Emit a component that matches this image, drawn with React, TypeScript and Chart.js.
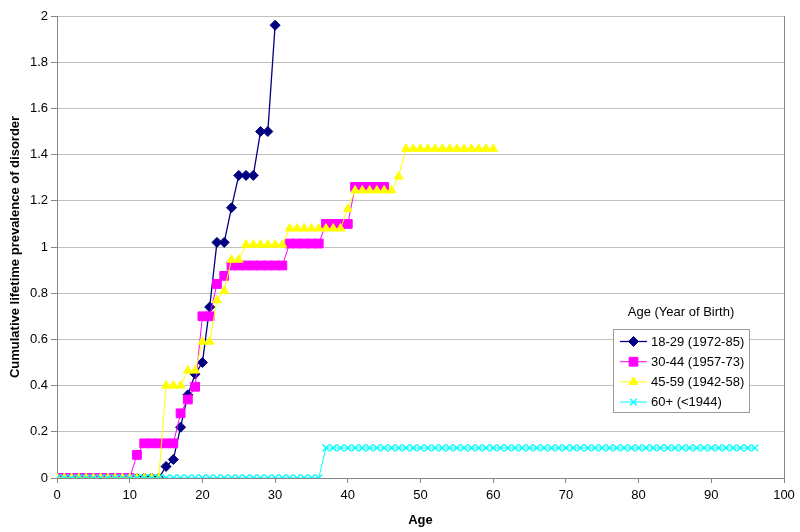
import React, { useEffect, useRef } from "react";
import { Chart, registerables } from "chart.js";
import { drawPoint } from "chart.js/helpers";

Chart.register(...registerables);

const FONT = '"Liberation Sans", Arial, sans-serif';

const AGES = [
  0, 1, 2, 3, 4, 5, 6, 7, 8, 9, 10, 11, 12, 13, 14, 15, 16, 17, 18, 19,
  20, 21, 22, 23, 24, 25, 26, 27, 28, 29, 30, 31, 32, 33, 34, 35, 36, 37, 38, 39,
  40, 41, 42, 43, 44, 45, 46, 47, 48, 49, 50, 51, 52, 53, 54, 55, 56, 57, 58, 59,
  60, 61, 62, 63, 64, 65, 66, 67, 68, 69, 70, 71, 72, 73, 74, 75, 76, 77, 78, 79,
  80, 81, 82, 83, 84, 85, 86, 87, 88, 89, 90, 91, 92, 93, 94, 95, 96,
];

const SERIES_NAMES = ["18-29 (1972-85)", "30-44 (1957-73)", "45-59 (1942-58)", "60+ (<1944)"];

// ages 0..30
const S1_VALUES = [
  0, 0, 0, 0, 0, 0, 0, 0, 0, 0, 0, 0, 0, 0, 0,
  0.05, 0.08, 0.22, 0.36, 0.45, 0.5, 0.74, 1.02, 1.02, 1.17, 1.31, 1.31, 1.31, 1.5, 1.5, 1.96,
];

// ages 0..45
const S2_VALUES = [
  0, 0, 0, 0, 0, 0, 0, 0, 0, 0, 0,
  0.1, 0.15, 0.15, 0.15, 0.15, 0.15, 0.28, 0.34, 0.395, 0.7, 0.7, 0.84, 0.875,
  0.92, 0.92, 0.92, 0.92, 0.92, 0.92, 0.92, 0.92,
  1.015, 1.015, 1.015, 1.015, 1.015,
  1.1, 1.1, 1.1, 1.1,
  1.26, 1.26, 1.26, 1.26, 1.26,
];

// ages 0..60
const S3_VALUES = [
  0, 0, 0, 0, 0, 0, 0, 0, 0, 0, 0, 0, 0, 0, 0,
  0.4, 0.4, 0.4, 0.465, 0.465, 0.59, 0.59, 0.77, 0.81, 0.945, 0.945,
  1.01, 1.01, 1.01, 1.01, 1.01, 1.01,
  1.08, 1.08, 1.08, 1.08, 1.08, 1.08, 1.08, 1.08,
  1.165,
  1.245, 1.245, 1.245, 1.245, 1.245, 1.245,
  1.305,
  1.425, 1.425, 1.425, 1.425, 1.425, 1.425, 1.425, 1.425, 1.425, 1.425, 1.425, 1.425, 1.425,
];

// ages 0..96
const S4_VALUES = [
  0, 0, 0, 0, 0, 0, 0, 0, 0, 0, 0, 0, 0, 0, 0, 0, 0, 0, 0, 0,
  0, 0, 0, 0, 0, 0, 0, 0, 0, 0, 0, 0, 0, 0, 0, 0, 0,
  0.13, 0.13, 0.13, 0.13, 0.13, 0.13, 0.13, 0.13, 0.13, 0.13,
  0.13, 0.13, 0.13, 0.13, 0.13, 0.13, 0.13, 0.13, 0.13, 0.13,
  0.13, 0.13, 0.13, 0.13, 0.13, 0.13, 0.13, 0.13, 0.13, 0.13,
  0.13, 0.13, 0.13, 0.13, 0.13, 0.13, 0.13, 0.13, 0.13, 0.13,
  0.13, 0.13, 0.13, 0.13, 0.13, 0.13, 0.13, 0.13, 0.13, 0.13,
  0.13, 0.13, 0.13, 0.13, 0.13, 0.13, 0.13, 0.13, 0.13, 0.13,
];

const X_TITLE = "Age";
const Y_TITLE = "Cumulative lifetime prevalence of disorder";
const LEGEND_TITLE = "Age (Year of Birth)";

const COLORS = ["#000080", "#FF00FF", "#FFFF00", "#00FFFF"];
const STYLES = ["rectRot", "rect", "triangle", "crossRot"];
const RADII = [5, 6.2, 5, 4.8];
const WIDTHS = [1.3, 1, 1, 1];
const MARKER_BORDERS = [1, 1, 1, 1.4];

const toPoints = (vals: number[]) => vals.map((v, i) => ({ x: AGES[i], y: v }));

const frame = {
  id: "frameAndLegend",
  afterDraw(chart: any) {
    const ctx = chart.ctx;
    const { right, top, bottom } = chart.chartArea;
    ctx.save();
    ctx.strokeStyle = "#868686";
    ctx.lineWidth = 1;
    ctx.beginPath();
    ctx.moveTo(Math.round(right) + 0.5, top);
    ctx.lineTo(Math.round(right) + 0.5, bottom);
    ctx.stroke();

    ctx.font = `13px ${FONT}`;
    ctx.fillStyle = "#000";
    ctx.textAlign = "center";
    ctx.textBaseline = "middle";
    ctx.fillText(LEGEND_TITLE, 681, 312);

    const bx = 613, by = 329, bw = 137, bh = 84;
    ctx.fillStyle = "#fff";
    ctx.fillRect(bx, by, bw, bh);
    ctx.strokeStyle = "#9a9a9a";
    ctx.lineWidth = 1;
    ctx.strokeRect(bx + 0.5, by + 0.5, bw - 1, bh - 1);

    chart.data.datasets.forEach((ds: any, i: number) => {
      const y = 341.5 + i * 20.2;
      ctx.strokeStyle = ds.borderColor;
      ctx.lineWidth = ds.borderWidth;
      ctx.beginPath();
      ctx.moveTo(620, y);
      ctx.lineTo(647, y);
      ctx.stroke();
      ctx.fillStyle = ds.pointBackgroundColor;
      ctx.strokeStyle = ds.pointBorderColor;
      ctx.lineWidth = ds.pointBorderWidth;
      drawPoint(ctx, { pointStyle: ds.pointStyle, radius: ds.pointRadius, rotation: 0, borderWidth: ds.pointBorderWidth }, 633.5, y);
      ctx.fillStyle = "#000";
      ctx.textAlign = "left";
      ctx.textBaseline = "middle";
      ctx.font = `13px ${FONT}`;
      ctx.fillText(ds.label, 651, y + 0.5);
    });
    ctx.restore();
  },
};

export default function App() {
  const ref = useRef<HTMLCanvasElement | null>(null);

  useEffect(() => {
    if (!ref.current) return;
    const seriesVals = [S1_VALUES, S2_VALUES, S3_VALUES, S4_VALUES];
    const datasets = seriesVals.map((vals, i) => ({
      label: SERIES_NAMES[i],
      data: toPoints(vals),
      borderColor: COLORS[i],
      backgroundColor: COLORS[i],
      pointBackgroundColor: COLORS[i],
      pointBorderColor: COLORS[i],
      pointStyle: STYLES[i],
      pointRadius: RADII[i],
      pointBorderWidth: MARKER_BORDERS[i],
      borderWidth: WIDTHS[i],
      tension: 0,
      order: 4 - i,
    }));

    const chart = new Chart(ref.current, {
      type: "line",
      data: { datasets },
      plugins: [frame],
      options: {
        animation: false,
        responsive: false,
        devicePixelRatio: 1,
        layout: { padding: { top: 16, right: 16, left: 0, bottom: 0 } },
        plugins: { legend: { display: false }, tooltip: { enabled: false } },
        scales: {
          x: {
            type: "linear",
            min: 0,
            max: 100,
            ticks: { stepSize: 10, color: "#000", font: { size: 13, family: FONT }, padding: 5, maxRotation: 0 },
            grid: { drawOnChartArea: false, color: "#868686", tickLength: 5 },
            border: { color: "#868686" },
            title: {
              display: true,
              text: X_TITLE,
              color: "#000",
              font: { size: 13, weight: "bold", family: FONT },
              padding: { top: 0, bottom: 4 },
            },
            afterFit: (s: any) => {
              s.height = 54;
            },
          },
          y: {
            type: "linear",
            min: 0,
            max: 2,
            ticks: {
              stepSize: 0.2,
              color: "#000",
              font: { size: 13, family: FONT },
              padding: 3,
              callback: (v: any) => String(Number(Number(v).toFixed(1))),
            },
            grid: { color: "#c0c0c0", tickColor: "#868686", tickLength: 6 },
            border: { color: "#868686" },
            title: {
              display: true,
              text: Y_TITLE,
              color: "#000",
              font: { size: 13, weight: "bold", family: FONT },
              padding: { top: 8, bottom: 0 },
            },
            afterFit: (s: any) => {
              s.width = 57;
            },
          },
        },
      },
    } as any);
    return () => chart.destroy();
  }, []);

  return (
    <div style={{ position: "fixed", left: 0, top: 0, width: 800, height: 532, background: "#fff" }}>
      <canvas ref={ref} width={800} height={532} style={{ width: 800, height: 532, display: "block" }} />
    </div>
  );
}
